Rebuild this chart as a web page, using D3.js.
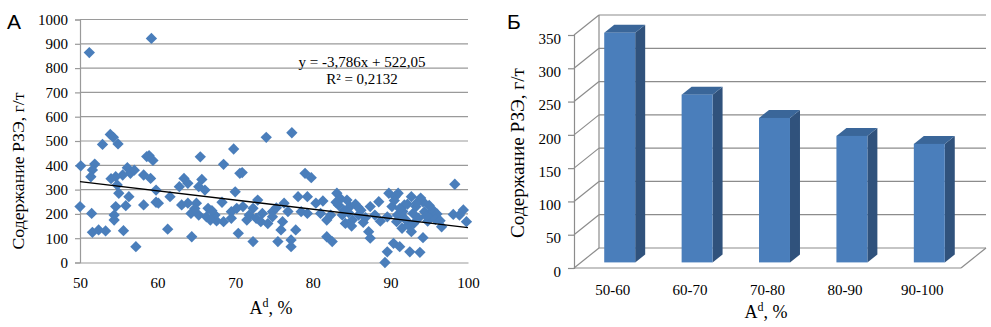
<!DOCTYPE html>
<html><head><meta charset="utf-8">
<script src="https://cdn.jsdelivr.net/npm/d3@7"></script>
<style>
body{margin:0;background:#fff}
svg{display:block}
text{font-family:"Liberation Serif","Times New Roman","DejaVu Serif",serif !important;fill:#000}
text.sans{font-family:"Liberation Sans",Arial,sans-serif !important}
</style></head>
<body><svg id="c" width="991" height="327"></svg>
<script>
// ---------- Data: panel А (scatter) ----------
const ashContent = [
 51.2,59.2,50.1,51.9,51.6,51.4,52.9,53.9,54.3,54.9,56.1,56.5,54.6,55.5,58.6,59.4,58.9,58.2,59.1,59.8,
 54.8,55.0,56.3,50.0,51.5,54.6,55.9,58.2,59.8,54.4,54.4,51.6,52.4,53.3,55.6,57.2,65.5,68.5,69.8,70.6,
 63.4,63.9,65.7,62.8,65.3,66.1,61.6,60.1,70.0,63.1,63.9,65.0,66.5,68.3,64.3,65.3,66.3,67.4,67.6,68.5,
 69.5,70.2,69.5,61.3,64.4,70.4,74.0,77.3,70.9,79.0,79.8,71.0,72.3,72.9,71.8,72.7,73.5,73.3,74.8,74.8,
 76.3,76.1,75.9,77.8,78.1,78.5,79.3,79.3,80.4,72.3,75.5,77.2,77.2,81.3,83.1,83.3,84.4,84.8,83.8,84.2,
 85.1,85.9,82.3,81.0,87.4,88.5,87.2,87.4,81.8,82.5,89.8,90.6,90.2,89.6,90.9,91.5,90.4,89.6,89.3,98.3,
 91.0,92.7,94.2,91.8,93.3,91.4,92.9,94.4,95.1,93.6,92.3,92.7,94.2,96.6,98.1,99.4,99.8,98.9,91.2,92.5,
 93.8,83.6,85.5,86.2,84.0,86.8,88.0,88.7,92.0,93.0,94.8,95.5,96.0,90.5,91.6,93.9,95.0,81.8,85.0,86.5,
 76.8,75.3,74.2,71.5,67.0,66.8,64.8,54.0,57.0,84.6,85.8,83.0,91.2,93.4,94.6,95.8,90.8,92.2,96.4
];
const reeContent = [
 864,922,398,405,381,353,486,527,515,488,390,367,353,360,436,420,440,360,346,298,
 319,285,271,230,202,230,234,237,248,195,175,124,134,130,131,65,435,404,467,367,
 346,326,342,312,312,298,271,244,291,237,244,244,223,248,202,195,188,195,171,168,
 209,223,182,137,106,120,515,534,370,367,349,230,223,257,195,182,202,168,209,188,
 244,168,134,134,271,209,271,202,244,86,86,65,93,253,285,237,257,230,195,161,
 175,195,195,202,230,250,127,100,106,86,285,271,230,188,195,141,79,44,0,322,
 285,271,250,237,230,195,202,209,188,182,154,127,102,147,198,216,168,195,65,44,
 42,262,240,215,215,185,195,170,175,160,170,215,200,255,210,265,235,175,150,165,
 210,225,160,175,213,175,222,345,380,205,228,248,222,245,192,178,168,240,172
];
const trendSlope = -3.786;
const trendIntercept = 522.05;
const trendText = "y = -3,786x + 522,05";
const r2Text = "R² = 0,2132";
const xTicksA = [50,60,70,80,90,100];
const yTicksA = [0,100,200,300,400,500,600,700,800,900,1000];

// ---------- Data: panel Б (3D columns) ----------
const categories = ["50-60","60-70","70-80","80-90","90-100"];
const meanRee = [345,252,217,190,178];
const yTicksB = [0,50,100,150,200,250,300,350];

const yTitle = "Содержание РЗЭ, г/т";

const svg = d3.select("#c");
const grid = "#9a9a9a";

// ================= Panel А =================
const xA = d3.scaleLinear().domain([50,100]).range([80,468]);
const yA = d3.scaleLinear().domain([0,1000]).range([262.5,19.5]);
const gA = svg.append("g");

gA.append("g").selectAll("line").data(yTicksA.slice(1)).join("line")
  .attr("x1",xA(50)).attr("x2",xA(100))
  .attr("y1",d=>yA(d)).attr("y2",d=>yA(d))
  .attr("stroke",grid).attr("stroke-width",1.2);

const axLA = gA.append("g").attr("transform",`translate(${xA(50)},0)`)
  .call(d3.axisLeft(yA).tickValues(yTicksA).tickSize(5).tickPadding(7).tickFormat(d3.format("d")));
axLA.attr("font-family",null);
axLA.select(".domain").attr("stroke",grid).attr("stroke-width",1.2);
axLA.selectAll(".tick line").attr("stroke",grid).attr("stroke-width",1.2);
axLA.selectAll("text").attr("font-size",15);

const axBA = gA.append("g").attr("transform",`translate(0,${yA(0)})`)
  .call(d3.axisBottom(xA).tickValues(xTicksA).tickSize(0).tickPadding(15).tickFormat(d3.format("d")));
axBA.attr("font-family",null);
axBA.select(".domain").attr("stroke",grid).attr("stroke-width",1.2);
axBA.selectAll("text").attr("font-size",15);

const diamond = d3.symbol().type(d3.symbolSquare).size(64);
gA.append("g").selectAll("path").data(ashContent.map((a,i)=>[a,reeContent[i]])).join("path")
  .attr("d",diamond)
  .attr("transform",d=>`translate(${xA(d[0])},${yA(d[1])}) rotate(45)`)
  .attr("fill","#4a7ebb");

gA.append("line")
  .attr("x1",xA(50)).attr("y1",yA(trendSlope*50+trendIntercept))
  .attr("x2",xA(100)).attr("y2",yA(trendSlope*100+trendIntercept))
  .attr("stroke","#000").attr("stroke-width",1.3);

gA.append("text").attr("x",362).attr("y",67).attr("text-anchor","middle")
  .attr("font-size",15).text(trendText);
gA.append("text").attr("x",362).attr("y",84).attr("text-anchor","middle")
  .attr("font-size",15).text(r2Text);

gA.append("text").attr("transform","translate(18,171) rotate(-90)")
  .attr("text-anchor","middle").attr("dominant-baseline","central")
  .attr("font-size",17).attr("textLength",157).attr("lengthAdjust","spacingAndGlyphs").text(yTitle);

const xtA = gA.append("text").attr("x",271).attr("y",314).attr("text-anchor","middle").attr("font-size",18);
xtA.append("tspan").text("A");
xtA.append("tspan").attr("font-size",12).attr("dy",-7).text("d");
xtA.append("tspan").attr("dy",7).text(", %");

gA.append("text").attr("class","sans").attr("x",7).attr("y",29).attr("font-size",21).text("А");

// ================= Panel Б =================
const xB = d3.scaleBand().domain(categories).range([574,961]);
const yB = d3.scaleLinear().domain([0,350]).range([268,35]);
const DX = 25, DY = -20;           // full depth offset of the 3D box
const zFront = 0.28, zDepth = 0.4; // bar placement within depth
const barW = xB.bandwidth()*0.4;
const gB = svg.append("g");
const gridB = "#8c8c8c";

gB.append("g").selectAll("line").data(yTicksB).join("line")
  .attr("x1",xB.range()[0]+DX).attr("x2",xB.range()[1]+DX)
  .attr("y1",d=>yB(d)+DY).attr("y2",d=>yB(d)+DY)
  .attr("stroke",gridB).attr("stroke-width",1.2);
gB.append("g").selectAll("line").data(yTicksB).join("line")
  .attr("x1",xB.range()[0]).attr("x2",xB.range()[0]+DX)
  .attr("y1",d=>yB(d)).attr("y2",d=>yB(d)+DY)
  .attr("stroke",gridB).attr("stroke-width",1.2);
gB.append("line").attr("x1",xB.range()[0]+DX).attr("x2",xB.range()[0]+DX)
  .attr("y1",yB(0)+DY).attr("y2",yB(350)+DY).attr("stroke",gridB).attr("stroke-width",1.2);
gB.append("line").attr("x1",xB.range()[0]).attr("x2",xB.range()[1])
  .attr("y1",yB(0)).attr("y2",yB(0)).attr("stroke",gridB).attr("stroke-width",1.2);
gB.append("line").attr("x1",xB.range()[1]).attr("x2",xB.range()[1]+DX)
  .attr("y1",yB(0)).attr("y2",yB(0)+DY).attr("stroke",gridB).attr("stroke-width",1.2);

const axLB = gB.append("g").attr("transform",`translate(${xB.range()[0]},0)`)
  .call(d3.axisLeft(yB).tickValues(yTicksB).tickSize(6).tickPadding(7).tickFormat(d3.format("d")));
axLB.attr("font-family",null);
axLB.select(".domain").attr("stroke",gridB).attr("stroke-width",1.2);
axLB.selectAll(".tick line").attr("stroke",gridB).attr("stroke-width",1.2);
axLB.selectAll("text").attr("font-size",15).attr("dy","0.55em");

const axBB = gB.append("g").attr("transform",`translate(0,${yB(0)})`)
  .call(d3.axisBottom(xB).tickSize(0).tickPadding(16));
axBB.attr("font-family",null);
axBB.select(".domain").remove();
axBB.selectAll("text").attr("font-size",15);

const fx = DX*zFront, fy = DY*zFront, bx = DX*zDepth, by = DY*zDepth;
const bars = gB.append("g").selectAll("g").data(categories.map((c,i)=>({c,v:meanRee[i]}))).join("g");
bars.each(function(d){
  const g = d3.select(this);
  const x0 = xB(d.c) + xB.bandwidth()/2 - barW/2 + fx;
  const x1 = x0 + barW;
  const yb = yB(0) + fy, yt = yB(d.v) + fy;
  g.append("path").attr("d",`M${x1},${yt}L${x1+bx},${yt+by}L${x1+bx},${yb+by}L${x1},${yb}Z`).attr("fill","#30527c");
  g.append("path").attr("d",`M${x0},${yt}L${x1},${yt}L${x1+bx},${yt+by}L${x0+bx},${yt+by}Z`).attr("fill","#3a6699");
  g.append("rect").attr("x",x0).attr("y",yt).attr("width",barW).attr("height",yb-yt).attr("fill","#4a7ebb");
});

gB.append("text").attr("transform","translate(518,153) rotate(-90)")
  .attr("text-anchor","middle").attr("dominant-baseline","central")
  .attr("font-size",18).attr("textLength",170).attr("lengthAdjust","spacingAndGlyphs").text(yTitle);

const xtB = gB.append("text").attr("x",766).attr("y",318).attr("text-anchor","middle").attr("font-size",18);
xtB.append("tspan").text("A");
xtB.append("tspan").attr("font-size",12).attr("dy",-7).text("d");
xtB.append("tspan").attr("dy",7).text(", %");

gB.append("text").attr("class","sans").attr("x",507).attr("y",29).attr("font-size",21).text("Б");
</script>
</body></html>
